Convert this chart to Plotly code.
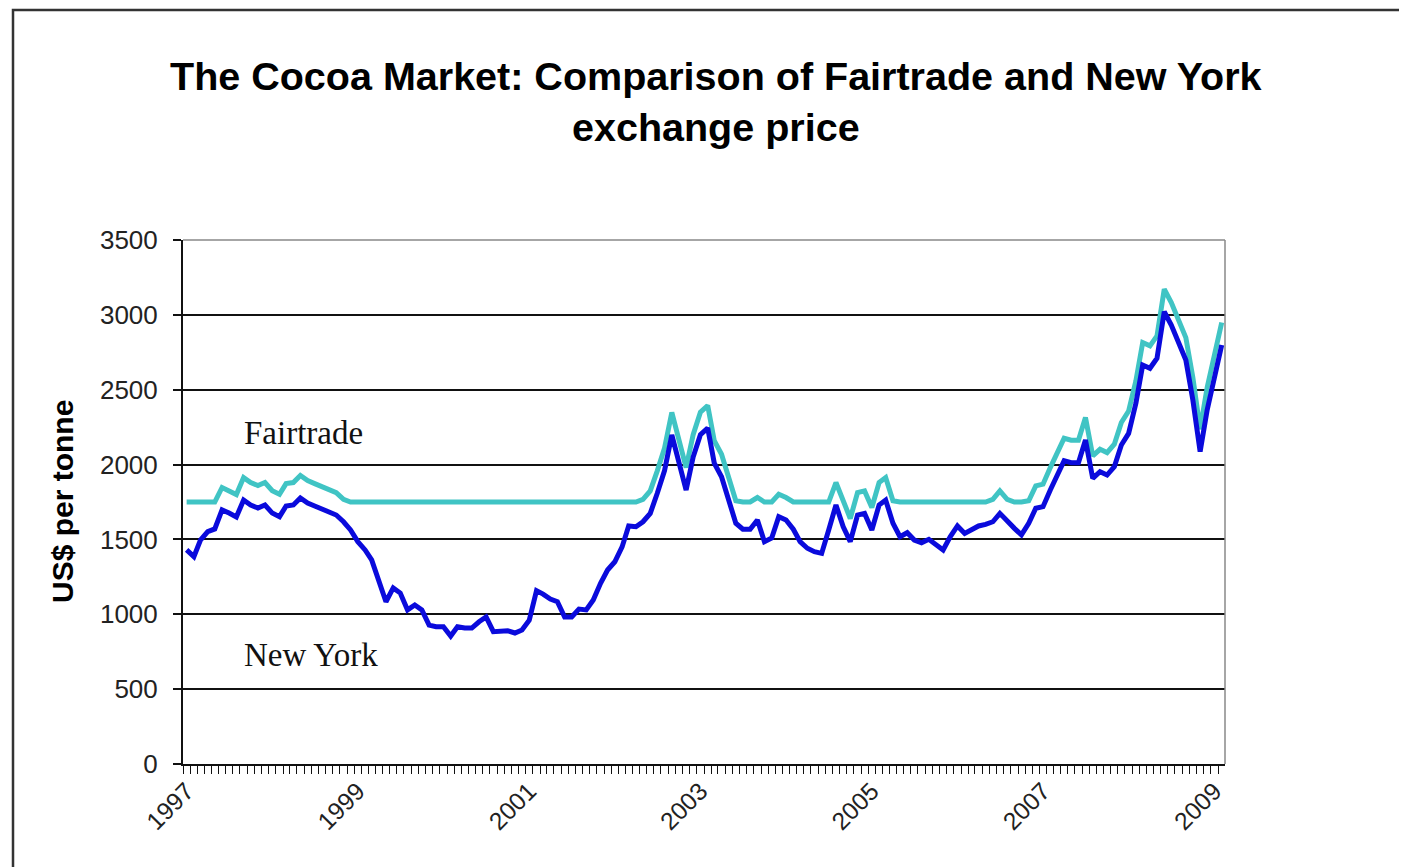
import plotly.graph_objects as go

# Monthly prices, US$ per tonne, Jan 1997 - Feb 2009
new_york = [
    1430, 1385, 1496, 1552, 1570, 1697, 1676, 1650, 1763, 1730, 1710, 1730,  # 1997
    1676, 1652, 1723, 1730, 1777, 1743, 1723, 1703, 1683, 1663, 1618, 1563,  # 1998
    1485, 1430, 1363, 1229, 1084, 1176, 1142, 1029, 1062, 1029, 928, 917,    # 1999
    917, 855, 917, 908, 908, 950, 982, 884, 890, 890, 875, 895,              # 2000
    960, 1158, 1135, 1102, 1084, 982, 982, 1035, 1029, 1095, 1207, 1296,     # 2001
    1351, 1450, 1590, 1585, 1618, 1674, 1808, 1960, 2198, 2010, 1830, 2050,  # 2002
    2200, 2244, 2010, 1919, 1763, 1608, 1568, 1568, 1630, 1485, 1509, 1652,  # 2003
    1630, 1568, 1485, 1441, 1418, 1407, 1563, 1730, 1585, 1485, 1663, 1674,  # 2004
    1563, 1730, 1763, 1608, 1518, 1545, 1496, 1478, 1501, 1463, 1430, 1518,  # 2005
    1590, 1540, 1563, 1590, 1600, 1618, 1674, 1618, 1574, 1530, 1608, 1708,  # 2006
    1719, 1830, 1930, 2026, 2013, 2013, 2164, 1908, 1952, 1930, 1986, 2131,  # 2007
    2208, 2409, 2665, 2643, 2710, 3021, 2932, 2821, 2698, 2431, 2086, 2365,  # 2008
    2587, 2799,                                                              # 2009
]
fairtrade = [
    1750, 1750, 1750, 1750, 1750, 1847, 1826, 1800, 1913, 1880, 1860, 1880,  # 1997
    1826, 1802, 1873, 1880, 1927, 1893, 1873, 1853, 1833, 1813, 1768, 1750,  # 1998
    1750, 1750, 1750, 1750, 1750, 1750, 1750, 1750, 1750, 1750, 1750, 1750,  # 1999
    1750, 1750, 1750, 1750, 1750, 1750, 1750, 1750, 1750, 1750, 1750, 1750,  # 2000
    1750, 1750, 1750, 1750, 1750, 1750, 1750, 1750, 1750, 1750, 1750, 1750,  # 2001
    1750, 1750, 1750, 1750, 1768, 1824, 1958, 2110, 2348, 2160, 1980, 2200,  # 2002
    2350, 2394, 2160, 2069, 1913, 1758, 1750, 1750, 1780, 1750, 1750, 1802,  # 2003
    1780, 1750, 1750, 1750, 1750, 1750, 1750, 1880, 1750, 1640, 1813, 1824,  # 2004
    1713, 1880, 1913, 1758, 1750, 1750, 1750, 1750, 1750, 1750, 1750, 1750,  # 2005
    1750, 1750, 1750, 1750, 1750, 1768, 1824, 1768, 1750, 1750, 1758, 1858,  # 2006
    1869, 1980, 2080, 2176, 2163, 2163, 2314, 2058, 2102, 2080, 2136, 2281,  # 2007
    2358, 2559, 2815, 2793, 2860, 3171, 3082, 2971, 2848, 2581, 2236, 2515,  # 2008
    2737, 2949,                                                              # 2009
]
years = list(range(1997, 2010))
year_labels = ["1997", "1999", "2001", "2003", "2005", "2007", "2009"]
y_ticks = [0, 500, 1000, 1500, 2000, 2500, 3000, 3500]

months = [f"{y}-{m:02d}-01" for y in years for m in range(1, 13)][:len(new_york)]
year_ticks = [f"{y}-01-01" for y in year_labels]
x_range = ["1996-12-16 12:00", "2009-02-15"]

# plot-area geometry in screen pixels; page has an 8px body margin
OFF = 8
L, R, T, B = 183, 1225, 240, 764
W, H = R - L, B - T
FIG_W, FIG_H = 1407 - OFF, 867 - OFF
def px(x):
    return (x - L) / W
def py(y):
    return (B - y) / H

fig = go.Figure()
fig.add_trace(go.Scatter(x=months, y=fairtrade, mode="lines", name="Fairtrade",
                         line=dict(color="#40C4C4", width=5), hoverinfo="skip"))
fig.add_trace(go.Scatter(x=months, y=new_york, mode="lines", name="New York",
                         line=dict(color="#0A0ADC", width=5), hoverinfo="skip"))
# empty helper trace so the overlaid label axis (x2) is drawn
fig.add_trace(go.Scatter(x=year_ticks, y=[None] * len(year_ticks), xaxis="x2",
                         mode="lines", showlegend=False, hoverinfo="skip"))

fig.update_layout(
    width=FIG_W, height=FIG_H,
    margin=dict(l=L - OFF, r=FIG_W - (L - OFF) - W, t=T - OFF, b=FIG_H - (T - OFF) - H),
    paper_bgcolor="white", plot_bgcolor="white",
    showlegend=False,
    font=dict(family="Liberation Sans, Arial", color="#111111"),
    # monthly tick marks on the main axis (at month boundaries)
    xaxis=dict(
        type="date", range=x_range,
        tickmode="linear", tick0="1996-12-16 12:00", dtick="M1",
        ticks="outside", ticklen=8, tickwidth=1.3, tickcolor="#111",
        showticklabels=False,
        showline=True, linecolor="#111", linewidth=2, showgrid=False, zeroline=False,
    ),
    # year labels on an overlaid axis sharing the same range
    xaxis2=dict(
        type="date", range=x_range, overlaying="x", anchor="y", side="bottom",
        tickmode="array", tickvals=year_ticks, ticktext=year_labels,
        ticks="", ticklabelstandoff=7,
        tickangle=-45, tickfont=dict(size=24.5, family="Liberation Sans, Arial", color="#222"),
        showline=False, showgrid=False, zeroline=False,
    ),
    yaxis=dict(
        range=[0, 3500], tickmode="array", tickvals=y_ticks,
        ticks="outside", ticklen=8, tickwidth=1.5, tickcolor="#111",
        tickfont=dict(size=26, family="Liberation Sans, Arial", color="#222"),
        ticklabelstandoff=10,
        showline=True, linecolor="#111", linewidth=2,
        showgrid=True, gridcolor="#111", gridwidth=1.6, zeroline=False,
    ),
)

# plot area border (top and right, grey)
fig.add_shape(type="line", xref="paper", yref="paper", x0=0, x1=1, y0=1, y1=1,
              line=dict(color="#888", width=1.5), layer="above")
fig.add_shape(type="line", xref="paper", yref="paper", x0=1, x1=1, y0=0, y1=1,
              line=dict(color="#888", width=1.5), layer="above")
# outer chart frame
fig.add_shape(type="rect", xref="paper", yref="paper",
              x0=px(13), x1=px(1420), y0=py(880), y1=py(10),
              line=dict(color="#333", width=2.5), layer="above")

fig.add_annotation(xref="paper", yref="paper", x=px(716), y=py(101),
                   xanchor="center", yanchor="middle", showarrow=False,
                   text="<b>The Cocoa Market: Comparison of Fairtrade and New York<br>exchange price</b>",
                   font=dict(size=39.5, family="Liberation Sans, Arial", color="#000"),
                   align="center")
fig.add_annotation(xref="paper", yref="paper", x=px(62), y=py(502),
                   xanchor="center", yanchor="middle", showarrow=False, textangle=-90,
                   text="<b>US$ per tonne</b>",
                   font=dict(size=30, family="Liberation Sans, Arial", color="#000"))
fig.add_annotation(xref="paper", yref="paper", x=px(242), y=py(433),
                   xanchor="left", yanchor="middle", showarrow=False,
                   text="Fairtrade",
                   font=dict(size=33, family="Liberation Serif, Times New Roman", color="#111"))
fig.add_annotation(xref="paper", yref="paper", x=px(242), y=py(655),
                   xanchor="left", yanchor="middle", showarrow=False,
                   text="New York",
                   font=dict(size=33, family="Liberation Serif, Times New Roman", color="#111"))

fig.write_html("out.html")
